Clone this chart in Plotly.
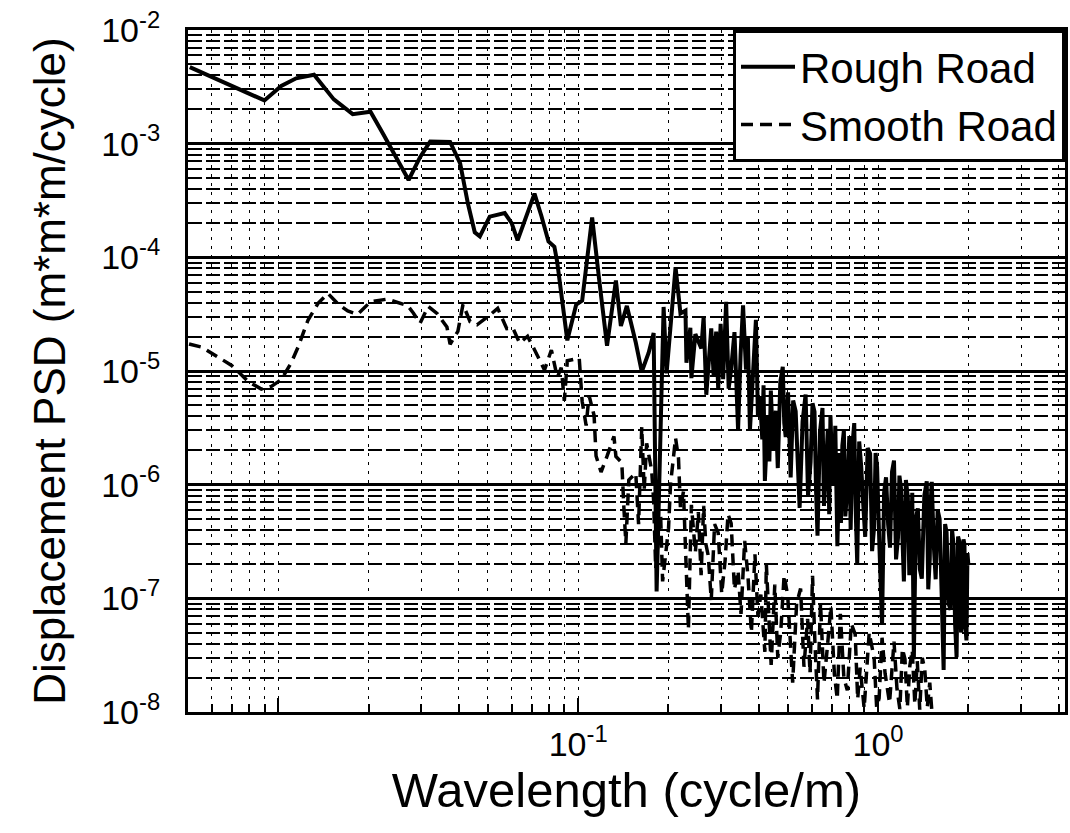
import math
import plotly.graph_objects as go

# Displacement PSD of the two road profiles (frequency in cycle/m, PSD in m*m*m/cycle)
rough_freq = [
    5.07e-3, 8.99e-3, 1.023e-2, 1.147e-2, 1.316e-2, 1.532e-2, 1.771e-2, 2.03e-2, 2.24e-2, 2.72e-2,
    2.97e-2, 3.21e-2, 3.74e-2, 4.04e-2, 4.29e-2, 4.52e-2, 4.70e-2, 5.07e-2, 5.69e-2, 6.00e-2,
    6.28e-2, 6.73e-2, 7.15e-2, 7.54e-2, 7.96e-2, 8.33e-2, 8.51e-2, 9.20e-2, 9.85e-2, 0.1031,
    0.1113, 0.1173, 0.1248, 0.1336, 0.1388, 0.1453, 0.1556, 0.1629, 0.1718, 0.1785,
    0.1826, 0.1927, 0.1971, 0.2112, 0.2193, 0.2279, 0.2296, 0.2366, 0.2385, 0.2459,
    0.2574, 0.2620, 0.2674, 0.2725, 0.2778, 0.2830, 0.2885, 0.2930, 0.2985, 0.3043,
    0.3114, 0.3175, 0.3236, 0.3320, 0.3413, 0.3480, 0.3546, 0.3627, 0.3680, 0.3739,
    0.3830, 0.3914, 0.3975, 0.4036, 0.4110, 0.4150, 0.4193, 0.4290, 0.4340, 0.4389,
    0.4470, 0.4560, 0.4630, 0.4720, 0.4810, 0.4865, 0.4920, 0.5010, 0.5111, 0.5210,
    0.5311, 0.5390, 0.5475, 0.5600, 0.5733, 0.5840, 0.5955, 0.6045, 0.6138, 0.6210,
    0.6281, 0.6400, 0.6525, 0.6600, 0.6677, 0.6800, 0.6870, 0.6937, 0.7015, 0.7096,
    0.7200, 0.7315, 0.7450, 0.7520, 0.7600, 0.7690, 0.7776, 0.7900, 0.8017, 0.8100,
    0.8210, 0.8327, 0.8420, 0.8520, 0.8650, 0.8784, 0.8920, 0.9057, 0.9230, 0.9408,
    0.9550, 0.9700, 0.9810, 0.9924, 1.011, 1.031, 1.047, 1.063, 1.080, 1.096,
    1.113, 1.130, 1.148, 1.165, 1.178, 1.192, 1.205, 1.219, 1.238, 1.257,
    1.271, 1.286, 1.300, 1.316, 1.336, 1.357, 1.378, 1.399, 1.426, 1.453,
    1.470, 1.487, 1.498, 1.510, 1.533, 1.556, 1.580, 1.604, 1.629, 1.654,
    1.673, 1.692, 1.718, 1.745, 1.765, 1.785, 1.806, 1.827, 1.848, 1.868,
    1.890, 1.912, 1.927, 1.941, 1.956, 1.971, 1.986, 2.001,
]
rough_psd = [
    4.71e-3, 2.40e-3, 3.22e-3, 3.76e-3, 4.04e-3, 2.45e-3, 1.82e-3, 1.91e-3, 1.21e-3, 4.79e-4,
    7.60e-4, 1.045e-3, 1.035e-3, 6.71e-4, 2.96e-4, 1.66e-4, 1.53e-4, 2.28e-4, 2.45e-4, 2.00e-4,
    1.41e-4, 2.33e-4, 3.63e-4, 2.31e-4, 1.38e-4, 1.24e-4, 9.14e-5, 1.86e-5, 3.85e-5, 4.16e-5,
    2.24e-4, 6.59e-5, 1.67e-5, 6.25e-5, 2.49e-5, 3.74e-5, 1.78e-5, 9.86e-6, 1.45e-5, 2.16e-5,
    1.15e-7, 3.66e-5, 9.53e-6, 8.20e-5, 3.21e-5, 3.40e-5, 1.18e-5, 2.40e-5, 8.65e-6, 2.11e-5,
    1.58e-5, 3.0e-5, 6.18e-6, 1.2e-5, 2.37e-5, 9.0e-6, 2.22e-5, 6.95e-6, 2.6e-5, 8.49e-6,
    4.07e-5, 7.0e-6, 1.035e-5, 2.2e-5, 3.03e-6, 1.4e-5, 3.79e-5, 1.028e-5, 2.0e-5, 3.02e-6,
    1.1e-5, 2.82e-5, 4.0e-6, 6.00e-6, 2.5e-6, 7.5e-6, 1.08e-6, 4.0e-6, 1.6e-6, 6.73e-6,
    2.0e-6, 4.47e-6, 1.4e-6, 8.0e-6, 1.09e-5, 3.5e-6, 2.62e-6, 6.5e-6, 1.16e-6, 5.5e-6,
    4.42e-6, 1.3e-6, 6.24e-7, 3.6e-6, 6.21e-6, 8.0e-7, 1.58e-6, 5.2e-6, 4.38e-6, 9.0e-7,
    3.56e-7, 2.9e-6, 4.72e-6, 6.5e-7, 1.21e-6, 3.1e-6, 5.5e-7, 4.07e-6, 1.6e-6, 9.77e-7,
    3.3e-6, 2.87e-7, 1.9e-6, 4.6e-7, 2.20e-6, 3.0e-6, 5.26e-7, 9.5e-7, 2.68e-6, 4.0e-7,
    2.2e-6, 3.48e-6, 6.0e-7, 2.01e-7, 2.4e-6, 1.45e-6, 6.8e-7, 3.47e-7, 2.1e-6, 1.87e-6,
    2.6e-7, 4.23e-7, 1.9e-6, 1.43e-6, 2.7e-7, 5.82e-8, 8.5e-7, 1.16e-6, 4.5e-7, 2.79e-7,
    1.3e-6, 1.63e-6, 2.2e-7, 3.40e-7, 1.2e-6, 9.40e-7, 3.6e-7, 1.41e-7, 1.1e-6, 7.64e-7,
    1.6e-7, 2.24e-7, 8.5e-7, 2.92e-8, 5.0e-7, 6.19e-7, 1.8e-7, 1.49e-7, 8.0e-7, 1.07e-6,
    1.2e-7, 2.22e-7, 7.0e-7, 1.06e-6, 3.0e-7, 1.47e-7, 6.0e-7, 4.99e-7, 1.1e-7, 2.34e-8,
    4.5e-7, 3.81e-7, 9.0e-8, 7.93e-8, 4.0e-7, 2.97e-7, 6.0e-8, 3.03e-8, 3.5e-7, 3.15e-7,
    5.0e-8, 6.41e-8, 3.3e-7, 2.96e-7, 5.5e-8, 4.26e-8, 2.5e-7, 1.96e-7,
]

smooth_freq = [
    5.04e-3, 5.56e-3, 6.99e-3, 7.96e-3, 8.78e-3, 9.48e-3, 1.023e-2, 1.104e-2, 1.165e-2, 1.257e-2,
    1.357e-2, 1.464e-2, 1.58e-2, 1.705e-2, 1.84e-2, 2.03e-2, 2.31e-2, 2.70e-2, 2.82e-2, 2.97e-2,
    3.16e-2, 3.39e-2, 3.65e-2, 3.74e-2, 3.97e-2, 4.13e-2, 4.36e-2, 4.60e-2, 5.07e-2, 5.39e-2,
    5.78e-2, 6.05e-2, 6.38e-2, 6.78e-2, 7.15e-2, 7.72e-2, 8.14e-2, 8.52e-2, 8.78e-2, 8.99e-2,
    9.20e-2, 0.1008, 0.1031, 0.1063, 0.1087, 0.1130, 0.1147, 0.1192, 0.1248, 0.1316,
    0.1336, 0.1398, 0.1420, 0.1442, 0.1475, 0.1556, 0.1590, 0.1629, 0.1660, 0.1692,
    0.1758, 0.1785, 0.1813, 0.1883, 0.1912, 0.2001, 0.2032, 0.2112, 0.2160, 0.2193,
    0.2244, 0.2296, 0.2331, 0.2385, 0.2459, 0.2516, 0.2570, 0.2620, 0.2665, 0.2715,
    0.2778, 0.2850, 0.2930, 0.3010, 0.3090, 0.3160, 0.3236, 0.3320, 0.3413, 0.3491,
    0.3590, 0.3684, 0.3780, 0.3885, 0.3975, 0.4065, 0.4193, 0.4240, 0.4291, 0.4400,
    0.4525, 0.4630, 0.4736, 0.4860, 0.4996, 0.5190, 0.5350, 0.5516, 0.5660, 0.5821,
    0.5930, 0.6045, 0.6160, 0.6281, 0.6427, 0.6600, 0.6777, 0.6960, 0.7149, 0.7310,
    0.7484, 0.7690, 0.7897, 0.8140, 0.8389, 0.8550, 0.8717, 0.8985, 0.9340, 0.9700,
    0.9890, 1.008, 1.031, 1.055, 1.092, 1.130, 1.156, 1.182, 1.205, 1.229,
    1.252, 1.276, 1.300, 1.326, 1.351, 1.377, 1.404, 1.431, 1.459, 1.487,
    1.510,
]
smooth_psd = [
    1.73e-5, 1.62e-5, 1.12e-5, 8.04e-6, 6.93e-6, 7.33e-6, 8.39e-6, 1.18e-5, 1.63e-5, 2.81e-5,
    3.94e-5, 4.81e-5, 3.90e-5, 3.37e-5, 3.15e-5, 4.07e-5, 4.29e-5, 3.75e-5, 3.24e-5, 2.63e-5,
    3.71e-5, 3.19e-5, 2.44e-5, 1.72e-5, 2.23e-5, 3.86e-5, 2.72e-5, 2.55e-5, 3.10e-5, 3.56e-5,
    2.36e-5, 2.40e-5, 1.76e-5, 2.02e-5, 1.54e-5, 1.02e-5, 1.53e-5, 8.77e-6, 1.07e-5, 5.47e-6,
    1.23e-5, 1.30e-5, 5.42e-6, 3.31e-6, 6.10e-6, 4.05e-6, 1.79e-6, 1.29e-6, 1.78e-6, 2.66e-6,
    1.77e-6, 1.56e-6, 6.35e-7, 3.05e-7, 1.10e-6, 1.26e-6, 4.5e-7, 3.21e-6, 9.0e-7, 2.31e-6,
    1.33e-6, 7.21e-7, 1.84e-7, 5.51e-7, 1.41e-7, 4.12e-7, 1.01e-6, 2.57e-6, 1.71e-6, 6.15e-7,
    8.69e-7, 1.20e-7, 5.31e-8, 6.64e-7, 2.54e-7, 5.73e-7, 1.6e-7, 6.5e-7, 3.0e-7, 2.37e-7,
    9.66e-8, 4.5e-7, 3.77e-7, 1.1e-7, 2.16e-7, 5.5e-7, 4.58e-7, 1.2e-7, 1.75e-7, 7.29e-8,
    3.2e-7, 1.54e-7, 5.0e-8, 2.45e-7, 7.0e-8, 1.08e-7, 3.38e-8, 2.0e-7, 9.35e-8, 2.6e-8,
    1.32e-7, 3.0e-8, 5.04e-8, 1.6e-7, 1.06e-7, 1.81e-8, 9.0e-8, 1.22e-7, 2.5e-8, 6.59e-8,
    2.2e-8, 1.58e-7, 4.0e-8, 1.29e-8, 9.08e-8, 1.8e-8, 3.76e-8, 8.5e-8, 2.16e-8, 1.3e-8,
    7.32e-8, 2.0e-8, 1.55e-8, 6.0e-8, 4.82e-8, 1.3e-8, 2.45e-8, 1.08e-8, 5.0e-8, 2.99e-8,
    1.1e-8, 1.32e-8, 4.5e-8, 2.19e-8, 1.2e-8, 4.17e-8, 1.6e-8, 1.06e-8, 3.6e-8, 2.93e-8,
    1.1e-8, 2.54e-8, 3.5e-8, 1.17e-8, 2.8e-8, 1.05e-8, 3.0e-8, 2.37e-8, 1.1e-8, 1.81e-8,
    1.04e-8,
]
assert len(rough_freq) == len(rough_psd)
assert len(smooth_freq) == len(smooth_psd)

# Axis ticks
y_decades = [1e-8, 1e-7, 1e-6, 1e-5, 1e-4, 1e-3, 1e-2]
y_labels = ["10<sup>-8</sup>", "10<sup>-7</sup>", "10<sup>-6</sup>", "10<sup>-5</sup>",
            "10<sup>-4</sup>", "10<sup>-3</sup>", "10<sup>-2</sup>"]
x_decades = [1e-2, 1e-1, 1e0]
x_labels = ["", "10<sup>-1</sup>", "10<sup>0</sup>"]

y_minor = [k * 10.0 ** e for e in range(-8, -2) for k in range(2, 10)]
x_minor = [k * 10.0 ** e for e in range(-3, 1) for k in range(2, 10)]

FONT = "Liberation Sans, Arial, Helvetica, sans-serif"

fig = go.Figure()
fig.add_trace(go.Scatter(x=rough_freq, y=rough_psd, mode="lines", name="Rough Road",
                         line=dict(color="black", width=4)))
fig.add_trace(go.Scatter(x=smooth_freq, y=smooth_psd, mode="lines", name="Smooth Road",
                         line=dict(color="black", width=3.5, dash="12px,7px")))

fig.update_layout(
    width=1070, height=833, autosize=False,
    margin=dict(l=188, r=2, t=30, b=121),
    paper_bgcolor="white", plot_bgcolor="white",
    font=dict(family=FONT, color="black"),
    showlegend=True,
    legend=dict(x=1, xanchor="right", y=1, yanchor="top",
                bgcolor="white", bordercolor="black", borderwidth=3,
                font=dict(size=42, family=FONT, color="black"),
                itemwidth=54, tracegroupgap=0),
    xaxis=dict(
        type="log", range=[math.log10(0.005), math.log10(4.2)],
        tickmode="array", tickvals=x_decades, ticktext=x_labels,
        ticks="inside", ticklen=14, tickwidth=2, tickcolor="black",
        showgrid=True, gridcolor="black", gridwidth=1.3, griddash="3px,6px",
        minor=dict(tickmode="array", tickvals=x_minor, ticks="inside", ticklen=8,
                   tickwidth=2, tickcolor="black", showgrid=True,
                   gridcolor="black", gridwidth=1.3, griddash="3px,6px"),
        showline=True, linecolor="black", linewidth=3, mirror=True,
        tickfont=dict(size=34, family=FONT), ticklabelstandoff=0,
        title=dict(text="Wavelength (cycle/m)", font=dict(size=49, family=FONT), standoff=10),
        zeroline=False,
    ),
    yaxis=dict(
        type="log", range=[-8, -2],
        tickmode="array", tickvals=y_decades, ticktext=y_labels,
        ticks="inside", ticklen=14, tickwidth=2, tickcolor="black",
        showgrid=True, gridcolor="black", gridwidth=2.5,
        minor=dict(tickmode="array", tickvals=y_minor, ticks="inside", ticklen=8,
                   tickwidth=2, tickcolor="black", showgrid=True,
                   gridcolor="black", gridwidth=2, griddash="14px,4px"),
        showline=True, linecolor="black", linewidth=3, mirror=True,
        tickfont=dict(size=34, family=FONT), ticklabelstandoff=18,
        title=dict(text="Displacement PSD (m*m*m/cycle)", font=dict(size=44, family=FONT), standoff=22),
        zeroline=False,
    ),
)

fig.write_html("out.html")
